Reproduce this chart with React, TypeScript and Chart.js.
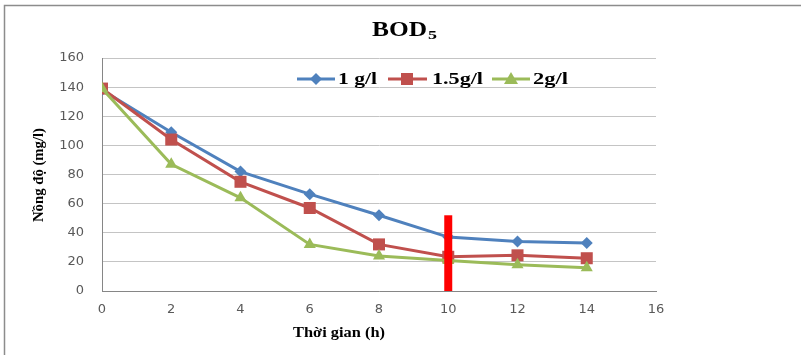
import React, { useEffect, useRef } from 'react';
import { Chart, registerables } from 'chart.js';

Chart.register(...registerables);

// ---- data ----
const hours = [0, 2, 4, 6, 8, 10, 12, 14];
const bod1 = [138, 109, 82, 66.5, 52, 37, 34, 33];
const bod15 = [139, 104, 75, 57, 32, 23.5, 24.5, 22.5];
const bod2 = [139, 87, 64, 32, 24, 21, 18, 16];
const seriesLabels = ['1 g/l', '1.5g/l', '2g/l'];
const seriesColors = ['#4f81bd', '#c0504d', '#9bbb59'];
const seriesShapes = ['rectRot', 'rect', 'triangle'];
const markerHour = 10;
const markerLevel = [0, 52];
const xMax = 16;
const xStep = 2;
const yMax = 160;
const yStep = 20;
const titleMain = 'BOD';
const titleSub = '5';
const xTitle = 'Thời gian (h)';
const yTitle = 'Nồng độ (mg/l)';

const SERIF = '"Liberation Serif", "Times New Roman", serif';

function stretchText(ctx: CanvasRenderingContext2D, text: string, x: number, y: number, font: string, targetW: number) {
  ctx.save();
  ctx.font = font;
  const w = ctx.measureText(text).width;
  const sx = targetW / w;
  ctx.translate(x, y);
  ctx.scale(sx, 1);
  ctx.textAlign = 'left';
  ctx.textBaseline = 'alphabetic';
  ctx.fillText(text, 0, 0);
  ctx.restore();
}

function drawMarker(ctx: CanvasRenderingContext2D, shape: string, x: number, y: number, color: string) {
  ctx.save();
  ctx.fillStyle = color;
  ctx.beginPath();
  if (shape === 'rectRot') {
    ctx.moveTo(x, y - 6);
    ctx.lineTo(x + 6, y);
    ctx.lineTo(x, y + 6);
    ctx.lineTo(x - 6, y);
  } else if (shape === 'rect') {
    ctx.rect(x - 6, y - 6, 12, 12);
  } else {
    ctx.moveTo(x, y - 7);
    ctx.lineTo(x + 7, y + 5);
    ctx.lineTo(x - 7, y + 5);
  }
  ctx.closePath();
  ctx.fill();
  ctx.restore();
}

const decorPlugin = {
  id: 'decor',
  afterDraw(chart: any) {
    const ctx: CanvasRenderingContext2D = chart.ctx;
    ctx.save();
    // outer frame (left + top)
    ctx.strokeStyle = '#8c8c8c';
    ctx.lineWidth = 1.5;
    ctx.beginPath();
    ctx.moveTo(4.5, 355);
    ctx.lineTo(4.5, 5.5);
    ctx.lineTo(801, 5.5);
    ctx.stroke();

    ctx.fillStyle = '#000000';
    // title
    stretchText(ctx, titleMain, 372, 36, `bold 20px ${SERIF}`, 55);
    stretchText(ctx, titleSub, 428, 39, `bold 13px ${SERIF}`, 9);

    // legend
    const legendY = 79;
    const lines = [
      [297, 335, 316, 338, 39],
      [388, 427, 407, 432, 51],
      [492, 530, 511, 533, 35],
    ];
    lines.forEach((l, i) => {
      ctx.strokeStyle = seriesColors[i];
      ctx.lineWidth = 3;
      ctx.beginPath();
      ctx.moveTo(l[0], legendY);
      ctx.lineTo(l[1], legendY);
      ctx.stroke();
      drawMarker(ctx, seriesShapes[i], l[2], legendY, seriesColors[i]);
      ctx.fillStyle = '#000000';
      stretchText(ctx, seriesLabels[i], l[3], 84, `bold 16px ${SERIF}`, l[4]);
    });

    // x title
    stretchText(ctx, xTitle, 293, 337, `bold 15px ${SERIF}`, 92);

    // y title
    ctx.save();
    ctx.translate(43, 175);
    ctx.scale(1.2, 1);
    ctx.rotate(-Math.PI / 2);
    ctx.font = `bold 13px ${SERIF}`;
    const w = ctx.measureText(yTitle).width;
    ctx.scale(94 / w, 1);
    ctx.textAlign = 'center';
    ctx.textBaseline = 'alphabetic';
    ctx.fillStyle = '#000000';
    ctx.fillText(yTitle, 0, 0);
    ctx.restore();

    ctx.restore();
  },
};

export default function App() {
  const ref = useRef<HTMLCanvasElement | null>(null);

  useEffect(() => {
    if (!ref.current) return;
    const toXY = (arr: number[]) => hours.map((h, i) => ({ x: h, y: arr[i] }));
    const seriesData = [bod1, bod15, bod2];
    const lineSets = seriesData.map((arr, i) => ({
      label: seriesLabels[i],
      data: toXY(arr),
      borderColor: seriesColors[i],
      backgroundColor: seriesColors[i],
      borderWidth: 3,
      pointStyle: seriesShapes[i],
      pointRadius: i === 0 ? 6 : i === 1 ? 8.5 : 7,
      pointBorderWidth: 0,
      tension: 0,
      order: 3 - i,
    }));
    const chart = new Chart(ref.current, {
      type: 'line',
      data: {
        datasets: [
          ...lineSets,
          {
            label: 'marker',
            data: markerLevel.map((v) => ({ x: markerHour, y: v })),
            borderColor: '#ff0000',
            backgroundColor: '#ff0000',
            borderWidth: 8,
            borderCapStyle: 'butt',
            pointRadius: 0,
            order: 0,
          } as any,
        ],
      },
      options: {
        animation: false,
        responsive: false,
        maintainAspectRatio: false,
        layout: { padding: { left: 0, right: 145, top: 58, bottom: 0 } },
        plugins: {
          legend: { display: false },
          title: { display: false },
          tooltip: { enabled: false },
        },
        scales: {
          x: {
            type: 'linear',
            min: 0,
            max: xMax,
            ticks: {
              stepSize: xStep,
              padding: 11,
              color: '#595959',
              font: { family: '"DejaVu Sans", sans-serif', size: 13 },
            },
            grid: { display: false, drawTicks: false },
            border: { display: true, color: '#868686', width: 1 },
            afterFit: (s: any) => {
              s.height = 64;
            },
          },
          y: {
            min: 0,
            max: yMax,
            ticks: {
              stepSize: yStep,
              padding: 18,
              color: '#595959',
              font: { family: '"DejaVu Sans", sans-serif', size: 13 },
            },
            grid: { color: '#c4c4c4', lineWidth: 1, drawTicks: false },
            border: { display: true, color: '#868686', width: 1 },
            afterFit: (s: any) => {
              s.width = 102;
            },
          },
        },
      },
      plugins: [decorPlugin],
    });
    return () => chart.destroy();
  }, []);

  return (
    <div style={{ position: 'absolute', left: 0, top: 0, width: 801, height: 355, background: '#ffffff' }}>
      <canvas ref={ref} width={801} height={355} style={{ display: 'block' }} />
    </div>
  );
}
